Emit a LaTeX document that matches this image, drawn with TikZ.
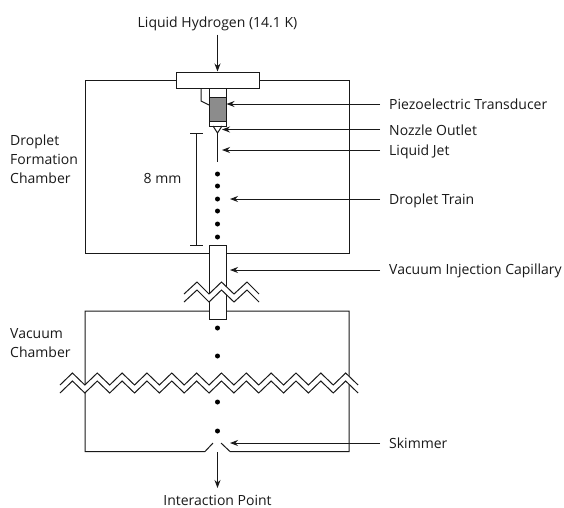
\documentclass[tikz,border=0pt]{standalone}
\usepackage{fontspec}
\setmainfont{Open Sans}
\usetikzlibrary{arrows.meta}
\tikzset{
  wire/.style={draw=black!90,line width=1pt},
  lead/.style={wire,-{Stealth[length=8pt,width=6pt]}},
  lbl/.style={inner sep=0pt,font=\fontsize{14}{19}\selectfont,text=black!90},
  lft/.style={lbl,align=left,anchor=base west},
  dropdot/.style={circle,fill=black,inner sep=0pt,minimum size=5pt},
}
\begin{document}
\begin{tikzpicture}[x=1pt,y=-1pt]
\useasboundingbox (0,0) rectangle (564,507);
% chambers
\draw[wire] (176,80) -- (85,80) -- (85,253) -- (209,253);
\draw[wire] (226,253) -- (349,253) -- (349,80) -- (259,80);
\draw[wire] (209,311) -- (85,311) -- (85,451.5) -- (205,451.5) -- (213,443);
\draw[wire] (226,311) -- (349,311) -- (349,451.5) -- (230,451.5) -- (221,443);
% plate and transducer
\node[wire,fill=white,inner sep=0pt,minimum width=83pt,minimum height=16pt] (plate) at (217.5,80) {};
\node[wire,fill=white,inner sep=0pt,minimum width=17pt,minimum height=38pt] (body) at (217.5,107) {};
\node[wire,fill=black!45,inner sep=0pt,minimum width=17pt,minimum height=24pt] (piezo) at (217.5,109) {};
\draw[wire] (201,88) -- (201,101) -- (209,105);
\coordinate (tip) at (217.5,133);
\coordinate (jetend) at (217.5,162);
\draw[wire] (213,126) -- (tip) -- (222,126);
\draw[wire] (tip) -- (jetend);
% dimension
\coordinate (dimtop) at (196.5,133);
\coordinate (dimbot) at (196.5,245);
\draw[wire] (dimtop) -- (dimbot);
\draw[wire] ([xshift=-6.5pt]dimtop) -- ([xshift=6.5pt]dimtop);
\draw[wire] ([xshift=-6.5pt]dimbot) -- ([xshift=6.5pt]dimbot);
\node[lbl,anchor=base] (dist) at (162.5,183) {8 mm};
% droplets
\foreach \n/\y in {a/174,b/186,c/199,d/211,e/224,f/237,g/328,h/356,i/402,j/431}
  \node[dropdot] (drop\n) at (217.5,\y) {};
% capillary
\node[wire,fill=white,inner sep=0pt,minimum width=17pt,minimum height=74pt] (cap) at (217.5,282) {};
% small break
\fill[white] (184,294) -- (197,282) -- (209,294) -- (221.5,282) -- (234,294) -- (247,282) -- (259,294)
  -- (259,302) -- (247,290) -- (234,302) -- (221.5,290) -- (209,302) -- (197,290) -- (184,302) -- cycle;
\draw[wire] (184,294) -- (197,282) -- (209,294) -- (221.5,282) -- (234,294) -- (247,282) -- (259,294);
\draw[wire] (184,302) -- (197,290) -- (209,302) -- (221.5,290) -- (234,302) -- (247,290) -- (259,302);
% long break
\fill[white] (60,385) \foreach \i in {0,...,11}{ -- ++(12.42,-12) -- ++(12.42,12) }
  -- ++(0,8) \foreach \i in {0,...,11}{ -- ++(-12.42,-12) -- ++(-12.42,12) } -- cycle;
\draw[wire] (60,385) \foreach \i in {0,...,11}{ -- ++(12.42,-12) -- ++(12.42,12) };
\draw[wire] (60,393) \foreach \i in {0,...,11}{ -- ++(12.42,-12) -- ++(12.42,12) };
% labels
\node[lbl,anchor=base] (lh) at (217.5,27) {Liquid Hydrogen (14.1 K)};
\node[lbl,anchor=base] (ip) at (217.5,505) {Interaction Point};
\node[lft] (l1) at (389,109) {Piezoelectric Transducer};
\node[lft] (l2) at (389,135) {Nozzle Outlet};
\node[lft] (l3) at (389,155) {Liquid Jet};
\node[lft] (l4) at (389,204) {Droplet Train};
\node[lft] (l5) at (389,274) {Vacuum Injection Capillary};
\node[lft] (l6) at (389,448) {Skimmer};
\node[lbl,align=left,anchor=west] (dfc) at (10,159) {Droplet\\Formation\\Chamber};
\node[lbl,align=left,anchor=west] (vc) at (10,343) {Vacuum\\Chamber};
% leads
\coordinate (t1) at (226.5,104);
\coordinate (t2) at (222,129.5);
\coordinate (t3) at (222,150);
\coordinate (t4) at (230,199);
\coordinate (t5) at (230,270);
\coordinate (t6) at (230,443);
\draw[lead] ([xshift=-9pt]l1.west |- t1) -- (t1);
\draw[lead] ([xshift=-9pt]l2.west |- t2) -- (t2);
\draw[lead] ([xshift=-9pt]l3.west |- t3) -- (t3);
\draw[lead] ([xshift=-9pt]l4.west |- t4) -- (t4);
\draw[lead] ([xshift=-9pt]l5.west |- t5) -- (t5);
\draw[lead] ([xshift=-9pt]l6.west |- t6) -- (t6);
\draw[lead] ([yshift=-4pt]lh.south) -- (plate.north);
\coordinate (skim) at (217.5,452);
\coordinate (ipend) at (217.5,488);
\draw[lead] (skim) -- (ipend);
\end{tikzpicture}
\end{document}
